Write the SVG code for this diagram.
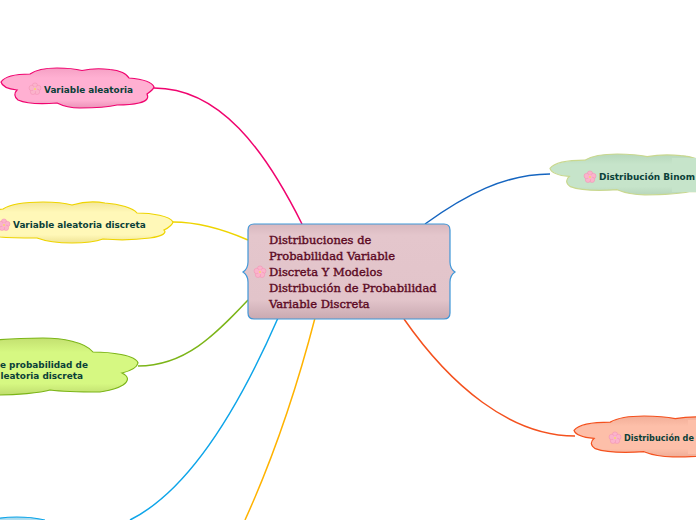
<svg xmlns="http://www.w3.org/2000/svg" width="696" height="520" viewBox="0 0 696 520">
<style>
.c{fill:none;stroke-width:1.5}
.t{font-family:"DejaVu Sans",sans-serif;font-weight:700;font-size:8.900px;fill:#0a4038}
.m{font-family:"DejaVu Serif","Liberation Serif",serif;font-weight:400;font-size:11.500px;fill:#5c0a24;stroke:#5c0a24;stroke-width:.4}
.s{stroke-width:1.200;vector-effect:non-scaling-stroke}
</style>
<defs>
<path id="cloud" class="s" d="M0 15C4 9 17 7 29 7C36 2 47 1 56 1C66 1 75 2 81 3.500C90 1.500 101 1.500 109 2.500C119 3 126 7 128 11C140 12 151 15 153 20C152 23 149 25 146 27C148 31 146 34 138 36C130 38 123 38 116 38C108 40 93 41 79 41C70 41 62 39 56 36C44 37 26 37 17 33C13 30 13 26 16 23C7 22 1 19 0 15Z"/>
<linearGradient id="gp" x1="0" y1="0" x2="0" y2="1"><stop offset="0" stop-color="#f5a0c4"/><stop offset=".25" stop-color="#ffb0d2"/><stop offset=".8" stop-color="#ffb0d2"/><stop offset="1" stop-color="#ea93b8"/></linearGradient>
<linearGradient id="gy" x1="0" y1="0" x2="0" y2="1"><stop offset="0" stop-color="#f3e69a"/><stop offset=".25" stop-color="#fff8b8"/><stop offset=".8" stop-color="#fff8b8"/><stop offset="1" stop-color="#efe394"/></linearGradient>
<linearGradient id="gl" x1="0" y1="0" x2="0" y2="1"><stop offset="0" stop-color="#c3e070"/><stop offset=".25" stop-color="#d6f882"/><stop offset=".8" stop-color="#d6f882"/><stop offset="1" stop-color="#bfdc6e"/></linearGradient>
<linearGradient id="gg" x1="0" y1="0" x2="0" y2="1"><stop offset="0" stop-color="#b7d8bc"/><stop offset=".25" stop-color="#c6e4ca"/><stop offset=".8" stop-color="#c6e4ca"/><stop offset="1" stop-color="#b8d6bc"/></linearGradient>
<linearGradient id="go" x1="0" y1="0" x2="0" y2="1"><stop offset="0" stop-color="#f2ae98"/><stop offset=".25" stop-color="#fdbfa9"/><stop offset=".8" stop-color="#fdbfa9"/><stop offset="1" stop-color="#efad97"/></linearGradient>
<linearGradient id="gb" x1="0" y1="0" x2="0" y2="1"><stop offset="0" stop-color="#9fd3e8"/><stop offset="1" stop-color="#b4e2f4"/></linearGradient>
<linearGradient id="gm" x1="0" y1="0" x2="0" y2="1"><stop offset="0" stop-color="#d8b8bf"/><stop offset=".12" stop-color="#e4c6cc"/><stop offset=".8" stop-color="#e2c4ca"/><stop offset="1" stop-color="#c9a9b1"/></linearGradient>
<g id="fl">
<g fill="#fbb3cb" stroke="#f08fb2" stroke-width=".5"><circle cx="0" cy="-3.400" r="2.700"/><circle cx="3.300" cy="-1" r="2.700"/><circle cx="2" cy="2.800" r="2.700"/><circle cx="-2" cy="2.800" r="2.700"/><circle cx="-3.300" cy="-1" r="2.700"/></g>
<circle r="2.200" fill="#fbb3cb"/>
<circle r="1.100" fill="#f5d46e"/>
</g>
</defs>
<g id="connectors">
<path class="c" stroke="#f0046f" d="M154 88C220 88 265 150 302 224"/>
<path class="c" stroke="#eed400" d="M173 222C200 222 225 230 248 240"/>
<path class="c" stroke="#7cb518" d="M138 366C185 366 215 335 248 300"/>
<path class="c" stroke="#0ea5e9" d="M278 318C240 405 190 490 130 520"/>
<path class="c" stroke="#ffb300" d="M315 318C295 395 270 465 245 520"/>
<path class="c" stroke="#1565c0" d="M425 224C465 195 505 174 550 174"/>
<path class="c" stroke="#f4511e" d="M404 319C450 385 510 436 575 436"/>
</g>
<g id="node-main">
<path fill="url(#gm)" stroke="#3f97d8" stroke-width="1.200" d="M254 224H444C448 224 450 226 450 230V262C450 267 452 270 455 272C452 274 450 277 450 282V313C450 317 448 319 444 319H254C250 319 248 317 248 313V282C248 277 246 274 243 272C246 270 248 267 248 262V230C248 226 250 224 254 224Z"/>
<use href="#fl" x="260" y="272"/>
<text class="m" x="269" y="244">Distribuciones de</text>
<text class="m" x="269" y="260">Probabilidad Variable</text>
<text class="m" x="269" y="276">Discreta Y Modelos</text>
<text class="m" x="269" y="292">Distribución de Probabilidad</text>
<text class="m" x="269" y="308">Variable Discreta</text>
</g>
<g id="node-variable-aleatoria">
<use href="#cloud" transform="translate(1 67)" fill="url(#gp)" stroke="#f0046f"/>
<use href="#fl" x="35" y="89"/>
<text class="t" x="44" y="93">Variable aleatoria</text>
</g>
<g id="node-variable-discreta">
<path fill="url(#gy)" stroke="#eed400" stroke-width="1.200" d="M-20 220C-15 213 -5 210 3 209C12 203 30 202 43 202C55 202 65 203 72 205C82 202 95 201 105 203C120 204 133 208 137 213C152 213 170 216 173 222C172 226 168 228 164 230C167 233 163 236 150 238C135 240 115 240 103 239C95 242 82 243 72 243C58 243 45 241 37 238C25 238 10 238 0 237C-10 234 -20 228 -20 220Z"/>
<use href="#fl" x="4" y="225"/>
<text class="t" x="13" y="228">Variable aleatoria discreta</text>
</g>
<g id="node-funcion">
<path fill="url(#gl)" stroke="#7cb518" stroke-width="1.200" d="M-20 342C0 339 25 338 43 338C62 338 85 342 93 352C110 352 136 355 138 363C137 368 130 371 122 373C128 376 130 380 123 385C115 390 105 391 100 392C85 392 65 392 50 390C40 393 15 395 0 395L-20 395Z"/>
<text class="t" x="0" y="368">e probabilidad de</text>
<text class="t" x="0.500" y="379">leatoria discreta</text>
</g>
<g id="node-azul">
<path fill="url(#gb)" stroke="#0ea5e9" stroke-width="1.200" d="M-10 520C5 516 28 516 45 520"/>
</g>
<g id="node-binomial">
<use href="#cloud" transform="translate(550 153) scale(1.200 1.020)" fill="url(#gg)" stroke="#c9d88f"/>
<rect x="672" y="158" width="30" height="34" fill="#c6e4ca"/>
<use href="#fl" x="590" y="177"/>
<text class="t" x="599" y="180" textLength="96" lengthAdjust="spacingAndGlyphs">Distribución Binom</text>
</g>
<g id="node-distribucion">
<use href="#cloud" transform="translate(574 415) scale(1.250 1.020)" fill="url(#go)" stroke="#f4511e"/>
<rect x="688" y="420" width="12" height="34" fill="#fdbfa9"/>
<use href="#fl" x="615" y="438"/>
<text class="t" x="624" y="441" textLength="70" lengthAdjust="spacingAndGlyphs">Distribución de</text>
</g>
</svg>
